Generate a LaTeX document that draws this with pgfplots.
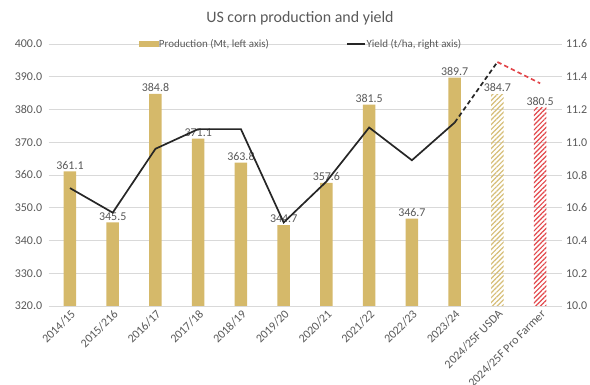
\documentclass[border=0pt]{standalone}
\usepackage{fontspec}
\setmainfont{Carlito}
\usepackage{pgfplots}
\pgfplotsset{compat=1.18}
\usetikzlibrary{patterns.meta}
\definecolor{cornTan}{RGB}{213,185,106}
\definecolor{hatchTan}{RGB}{214,190,120}
\definecolor{hatchRed}{RGB}{226,72,76}
\definecolor{textgray}{RGB}{89,89,89}
\definecolor{gridgray}{RGB}{217,217,217}
\definecolor{lineblack}{RGB}{38,38,38}
\begin{document}
\begin{tikzpicture}
\path[use as bounding box] (0,0) rectangle (590bp,385bp);
\node[font=\fontsize{16}{19}\selectfont, text=textgray] at (300bp,367bp) {US corn production and yield};
\begin{axis}[
  at={(48.6bp,79bp)}, anchor=south west, scale only axis,
  width=512.9bp, height=262bp,
  xmin=-0.5, xmax=11.5, ymin=320, ymax=400,
  ytick={320,330,...,400},
  axis line style={draw=none}, major tick length=0pt,
  ymajorgrids, grid style={gridgray, line width=0.8bp},
  xtick={0,...,11},
  xticklabels={2014/15,2015/216,2016/17,2017/18,2018/19,2019/20,2020/21,2021/22,2022/23,2023/24,2024/25F USDA,2024/25F Pro Farmer},
  xticklabel style={rotate=45, anchor=north east, font=\fontsize{12}{14}\selectfont, text=textgray, inner sep=2bp},
  yticklabel style={font=\fontsize{12}{14}\selectfont, text=textgray, anchor=east, xshift=-3bp},
  /pgf/number format/.cd, fixed, fixed zerofill, precision=1, assume math mode=true,
  /pgfplots/.cd,
  nodes near coords,
  nodes near coords style={font=\fontsize{12}{14}\selectfont, text=textgray, inner sep=2bp},
]
\addplot[ybar, bar width=12.5bp, bar shift=0pt, fill=cornTan, draw=none]
  coordinates {(0,361.1)(1,345.5)(2,384.8)(3,371.1)(4,363.8)(5,344.7)(6,357.6)(7,381.5)(8,346.7)(9,389.7)};
\addplot[ybar, bar width=12.5bp, bar shift=0pt, draw=none,
  pattern={Lines[angle=45, distance=3.4bp, line width=1.2bp]}, pattern color=hatchTan]
  coordinates {(10,384.7)};
\addplot[ybar, bar width=12.5bp, bar shift=0pt, draw=none,
  pattern={Lines[angle=45, distance=3.4bp, line width=1.2bp]}, pattern color=hatchRed]
  coordinates {(11,380.5)};
\end{axis}
\begin{axis}[
  at={(48.6bp,79bp)}, anchor=south west, scale only axis,
  width=512.9bp, height=262bp,
  xmin=-0.5, xmax=11.5, ymin=10, ymax=11.6,
  ytick={10,10.2,10.4,10.6,10.8,11,11.2,11.4,11.6},
  axis y line*=right, axis x line=none,
  axis line style={draw=none}, major tick length=0pt,
  yticklabel style={font=\fontsize{12}{14}\selectfont, text=textgray, anchor=west, xshift=1bp},
  /pgf/number format/.cd, fixed, fixed zerofill, precision=1, assume math mode=true,
  /pgfplots/.cd,
  legend style={at={(0.491,1)}, anchor=center, draw=none, fill=none,
    font=\fontsize{11}{13}\selectfont, text=textgray, inner xsep=0bp, inner ysep=1bp,
    nodes={inner xsep=1bp},
    /tikz/every even column/.append style={column sep=76bp}},
  legend columns=2,
  legend image code/.code={\draw[#1] (0bp,0bp) -- (18bp,0bp);},
]
\addlegendimage{legend image code/.code={\fill[cornTan] (0bp,-2.5bp) rectangle (19bp,2.5bp);}}
\addlegendentry{Production (Mt, left axis)}
\addplot[lineblack, line width=1.7bp]
  coordinates {(0,10.72)(1,10.57)(2,10.96)(3,11.08)(4,11.08)(5,10.51)(6,10.76)(7,11.09)(8,10.89)(9,11.12)};
\addlegendentry{Yield (t/ha, right axis)}
\addplot[lineblack, line width=1.7bp, dash pattern=on 4.5bp off 3bp, forget plot]
  coordinates {(9,11.12)(10,11.49)};
\addplot[hatchRed, line width=1.7bp, dash pattern=on 4.5bp off 3bp, forget plot]
  coordinates {(10,11.49)(11,11.36)};
\end{axis}
\end{tikzpicture}
\end{document}
